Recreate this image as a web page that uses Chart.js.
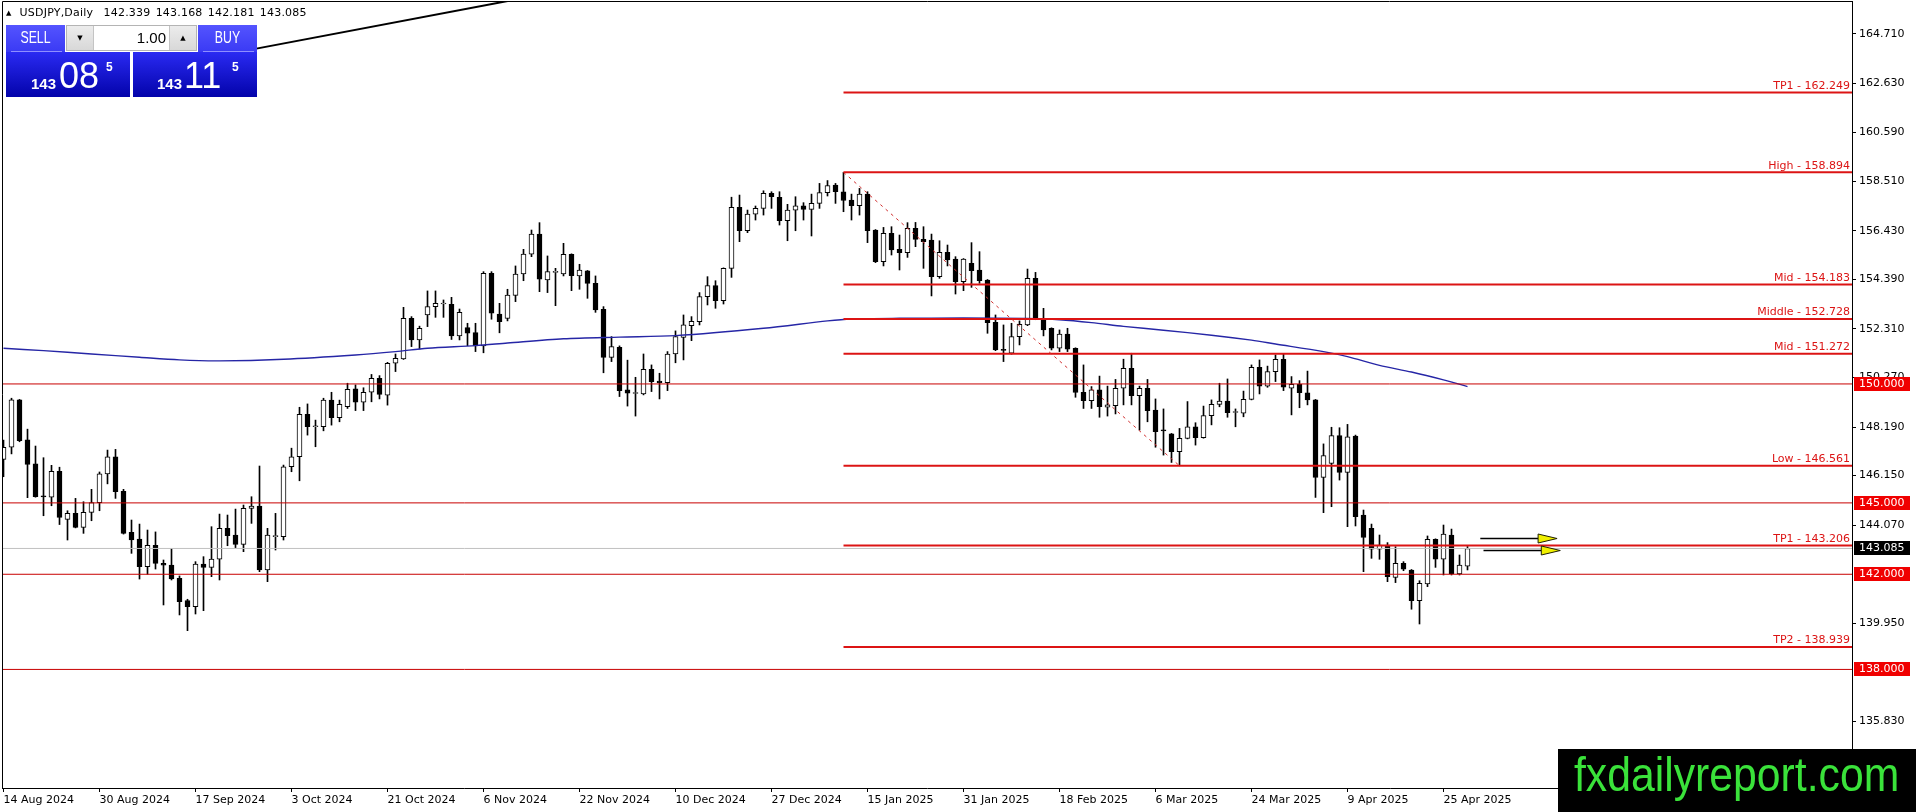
<!DOCTYPE html>
<html><head><meta charset="utf-8">
<script src="https://cdn.jsdelivr.net/npm/chart.js"></script>
<style>
html,body{margin:0;padding:0;background:#fff;}
#wrap{position:relative;width:1916px;height:812px;overflow:hidden;background:#fff;font-family:'DejaVu Sans',sans-serif;}
#c{position:absolute;left:0;top:0;width:1916px;height:812px;}
#hdr{position:absolute;left:6px;top:7px;font:11px 'DejaVu Sans',sans-serif;color:#000;white-space:pre;line-height:12px;letter-spacing:0.2px;word-spacing:1.5px;}
#hdr .tri{font-size:7px;vertical-align:1px;margin-right:8px;}
.pb{position:absolute;color:#fff;overflow:hidden;}
.top{top:25px;height:27px;background:linear-gradient(#5454ff,#3a3af4);text-align:center;}
.top span{position:absolute;left:0;right:0;top:4px;font:16px 'Liberation Sans',sans-serif;line-height:18px;transform:scaleX(0.77);}
.top i{position:absolute;left:5px;right:3px;bottom:0;height:1px;background:#8e8eff;}
#sellTop{left:6px;width:59px;}
#buyTop{left:198px;width:59px;}
#spin{position:absolute;left:66px;top:25px;width:129px;height:24px;border:1px solid #b4b4b4;background:#fff;}
#spin .b{position:absolute;top:0;width:26px;height:24px;background:linear-gradient(#ececec,#d8d8d8);font-size:7px;line-height:24px;text-align:center;color:#000;}
#spin .dn{left:0;border-right:1px solid #c4c4c4;}
#spin .up{right:0;border-left:1px solid #c4c4c4;}
#spin .fld{position:absolute;right:30px;top:3px;font:15px 'Liberation Sans',sans-serif;line-height:18px;color:#000;}
.bot{top:52px;height:45px;width:124px;background:linear-gradient(#2a2af2,#0303aa);font-family:'Liberation Sans',sans-serif;}
#sellBot{left:6px;}
#buyBot{left:133px;}
.bot .s1{position:absolute;top:24px;font:bold 15px 'Liberation Sans',sans-serif;line-height:15px;}
.bot .s2{position:absolute;top:6px;font:36px 'Liberation Sans',sans-serif;line-height:36px;}
.bot .s3{position:absolute;top:9px;font:bold 12px 'Liberation Sans',sans-serif;line-height:12px;}
#wm{position:absolute;left:1558px;top:749px;width:358px;height:63px;background:#000;}
#wm span{position:absolute;left:16px;top:2px;font:48px 'Liberation Sans',sans-serif;line-height:48px;color:#3ae23a;transform:scaleX(0.89);transform-origin:0 0;white-space:nowrap;}
</style></head><body>
<div id="wrap">
<canvas id="c" width="1916" height="812"></canvas>
<div id="hdr"><span class="tri">▲</span>USDJPY,Daily  142.339 143.168 142.181 143.085</div>
<div class="pb top" id="sellTop"><span>SELL</span><i></i></div>
<div id="spin"><div class="b dn">▼</div><div class="fld">1.00</div><div class="b up">▲</div></div>
<div class="pb top" id="buyTop"><span>BUY</span><i></i></div>
<div class="pb bot" id="sellBot"><span class="s1" style="left:25px">143</span><span class="s2" style="left:53px">08</span><span class="s3" style="left:100px">5</span></div>
<div class="pb bot" id="buyBot"><span class="s1" style="left:24px">143</span><span class="s2" style="left:51px">11</span><span class="s3" style="left:99px">5</span></div>
<div id="wm"><span>fxdailyreport.com</span></div>
</div>
<script>
// ---- data ----
const dateLabels = ['14 Aug 2024','30 Aug 2024','17 Sep 2024','3 Oct 2024','21 Oct 2024','6 Nov 2024','22 Nov 2024','10 Dec 2024','27 Dec 2024','15 Jan 2025','31 Jan 2025','18 Feb 2025','6 Mar 2025','24 Mar 2025','9 Apr 2025','25 Apr 2025'];
const dateIdx = [0,12,24,36,48,60,72,84,96,108,120,132,144,156,168,180];

const opens = [146.83,147.34,149.33,147.65,146.64,145.29,145.24,146.33,144.31,144.56,143.97,144.60,145.01,146.22,146.94,145.49,143.76,143.48,142.32,143.22,
142.46,142.39,141.83,140.89,140.64,142.43,142.29,142.63,143.93,143.65,143.26,144.77,144.87,142.18,143.58,143.58,146.52,146.94,148.72,148.20,
148.20,149.32,148.58,149.05,149.79,149.23,149.65,150.24,149.53,150.87,151.05,152.76,151.85,152.90,153.25,153.36,153.35,152.02,152.37,152.16,
151.60,154.65,152.94,152.75,153.72,154.62,155.46,156.30,154.37,154.69,154.62,155.45,154.54,154.75,154.23,153.14,151.12,151.54,149.75,149.60,
149.58,150.61,150.12,150.05,151.26,151.96,152.45,152.62,153.67,154.13,153.50,154.86,157.42,156.44,157.14,157.38,158.01,157.84,156.86,157.31,
157.49,157.34,157.59,158.04,158.36,158.08,157.73,157.49,157.98,156.47,155.14,156.33,155.66,155.52,156.54,156.08,156.05,154.51,155.53,155.25,
154.30,155.07,154.79,154.37,152.59,151.43,151.29,151.99,152.48,154.44,152.72,152.34,151.50,152.10,151.50,149.65,149.30,149.75,149.02,149.09,
149.82,150.66,149.51,149.82,148.90,148.04,147.90,147.15,147.71,148.20,147.74,148.67,149.14,149.28,148.80,148.77,149.35,150.70,149.91,150.52,
151.04,149.82,149.98,149.63,149.33,146.07,146.66,147.83,146.28,147.81,144.49,143.93,143.05,143.23,141.87,142.46,142.18,140.89,141.59,143.47,
142.63,143.65,142.01,142.339];
const highs = [147.64,149.40,149.35,148.10,147.39,146.90,146.58,146.50,144.67,145.19,145.05,145.57,146.30,147.22,147.25,145.57,144.28,144.11,143.86,143.78,
142.60,143.09,141.93,140.95,142.53,142.74,144.00,144.53,144.49,144.74,144.91,145.26,146.55,143.93,144.56,146.59,147.30,149.02,149.16,148.48,
149.40,149.65,149.32,150.03,149.96,149.84,150.40,150.35,150.91,151.26,153.22,152.83,152.43,153.91,153.91,153.53,153.64,153.15,152.55,152.55,
154.72,154.72,153.39,153.98,154.96,155.66,156.47,156.78,155.38,154.86,155.91,155.47,155.03,154.77,154.54,153.25,151.99,151.60,151.00,150.28,
151.26,150.80,150.45,151.36,152.23,152.90,152.83,153.84,154.51,154.34,154.88,157.85,157.94,157.31,157.48,158.12,158.08,158.08,157.55,157.87,
157.62,157.98,158.43,158.55,158.43,158.894,157.98,158.22,158.08,156.49,156.58,156.61,156.26,156.78,156.79,156.61,156.30,156.02,155.84,155.35,
155.27,155.94,155.56,154.39,152.90,152.48,152.55,152.65,154.83,154.69,153.18,152.36,152.27,152.34,151.52,150.80,149.89,150.33,149.91,150.19,
151.04,151.29,149.91,150.19,149.37,148.95,147.92,148.13,149.26,148.37,149.07,149.33,150.03,150.21,148.95,149.70,150.80,151.01,150.75,151.22,
151.26,150.31,150.14,150.54,149.35,147.48,148.18,148.16,148.30,147.85,144.70,144.11,143.65,143.33,143.16,142.53,142.20,141.73,143.61,143.49,
144.07,143.90,142.81,143.168];
const lows = [146.10,147.06,147.57,145.22,145.24,144.46,144.88,144.09,143.44,143.95,143.72,144.25,144.67,145.80,145.19,143.69,142.88,141.80,142.00,142.22,
140.71,141.76,140.29,139.63,140.33,140.47,141.90,141.76,143.20,143.12,142.95,144.14,142.11,141.69,143.02,143.44,146.31,145.93,147.85,147.36,
148.03,148.27,148.41,148.97,148.88,148.88,149.25,149.37,149.11,150.52,151.03,151.57,151.47,152.41,152.80,152.80,151.87,151.85,151.61,151.36,
151.31,152.72,152.15,152.65,153.46,154.34,155.35,153.88,153.84,153.29,154.54,153.92,153.98,153.60,153.01,150.47,150.94,149.47,149.07,148.65,
149.54,149.68,149.37,149.72,150.89,151.01,151.82,152.48,153.32,153.18,153.36,154.48,155.98,156.36,156.89,157.10,157.38,156.68,156.02,156.44,
156.89,156.22,157.38,157.90,157.59,157.24,156.89,157.10,155.94,155.10,154.96,155.42,154.79,155.32,155.77,154.86,153.70,154.44,154.96,153.78,
153.92,154.06,154.23,152.13,151.40,150.94,151.25,151.64,152.45,152.70,152.02,151.43,151.36,151.36,149.44,148.97,148.97,148.60,148.65,148.74,
149.12,149.12,148.06,148.41,147.34,147.01,146.70,146.561,147.69,147.43,147.72,148.28,149.04,148.60,148.20,148.62,149.33,149.58,149.86,150.10,
149.72,148.70,149.00,149.12,145.23,144.59,144.84,145.96,144.00,144.03,142.11,142.67,142.63,141.69,141.65,142.15,140.53,139.91,141.48,142.29,
141.97,141.97,141.97,142.181];
const closes = [147.34,149.33,147.62,146.62,145.26,145.25,146.33,144.39,144.56,143.97,144.60,145.01,146.22,146.94,145.47,143.72,143.44,142.32,143.22,142.46,
142.38,141.80,140.85,140.64,142.43,142.29,142.64,143.93,143.62,143.26,144.77,144.87,142.18,143.65,143.63,146.52,146.94,148.72,148.20,148.22,
149.32,148.58,149.14,149.77,149.23,149.65,150.24,149.56,150.87,151.08,152.76,151.85,152.34,153.25,153.39,153.38,152.02,153.01,152.13,151.60,
154.65,152.97,152.62,153.74,154.62,155.46,156.30,154.40,154.72,154.70,155.45,154.55,154.79,154.23,153.11,151.12,151.57,149.72,149.61,149.62,
150.61,150.10,150.05,151.26,151.99,152.48,152.63,153.67,154.13,153.50,154.86,157.42,156.44,157.14,157.38,158.01,157.87,156.86,157.31,157.49,
157.34,157.59,158.04,158.34,158.08,157.71,157.49,157.98,156.44,155.14,156.33,155.63,155.52,156.54,156.08,155.98,154.51,155.53,155.21,154.30,
155.25,154.76,154.34,152.58,151.43,151.41,151.99,152.51,154.44,152.72,152.27,151.50,152.10,151.46,149.64,149.30,149.75,149.05,149.12,149.82,
150.66,149.51,149.82,148.88,147.99,148.03,147.15,147.71,148.20,147.74,148.67,149.14,149.28,148.79,148.81,149.35,150.70,149.91,150.52,151.04,
149.86,149.98,149.63,149.33,146.07,146.99,147.83,146.28,147.78,144.42,143.55,143.05,143.23,141.90,142.46,142.21,140.89,141.62,143.47,142.63,
143.69,142.01,142.39,143.085];

// moving average (bar index -> value)
const maIdx = [0,5,11,17,22,27,35,44,49,53,59,63,70,77,84,95,103,106,112,120,128,132,136,140,145,151,156,159,165,168,172,176,180,183];
const maVal = [151.50,151.40,151.26,151.12,151.01,150.97,151.04,151.22,151.36,151.50,151.61,151.72,151.90,151.97,152.03,152.34,152.65,152.73,152.76,152.77,152.75,152.70,152.58,152.42,152.26,152.05,151.84,151.68,151.36,151.15,150.78,150.50,150.17,149.89];

const yTickValues = [164.71,162.63,160.59,158.51,156.43,154.39,152.31,150.27,148.19,146.15,144.07,139.95,135.83];
const fibNames = ['TP1','High','Mid','Middle','Mid','Low','TP1','TP2'];
const fibLevels = [162.249,158.894,154.183,152.728,151.272,146.561,143.206,138.939];
const fibStart = 105;
const roundLevels = [150.000,145.000,142.000,138.000];
const lastPrice = 143.085;
const swingIdx = [105,147];
const swingVal = [158.894,146.561];
const trendIdx = [25,70];
const trendVal = [163.675,166.54];
const arrowFrom = [184.6,185.0];
const arrowTo = [194.2,194.6];
const arrowPrice = [143.54,143.02];

// ---- scale ranges (pixel layout) ----
const xMin = -0.1875, xMax = -0.1875 + 1850/8;
const yMax = 164.71 + 33/23.79, yMin = 164.71 - 754/23.79;

const idx = opens.map((_, i) => i);
const red = '#dc1414';
const datasets = [];
datasets.push({type:'bar', order:20, data: idx.map(i => ({x:i, y:[lows[i], highs[i]]})),
  backgroundColor:'#000', borderWidth:0, barThickness:1, grouped:false, minBarLength:1});
datasets.push({type:'bar', order:19, data: idx.map(i => ({x:i, y:[opens[i], closes[i]]})),
  backgroundColor: idx.map(i => closes[i] >= opens[i] ? '#ffffff' : '#000000'),
  borderColor:'#000', borderWidth:1, borderSkipped:false, barThickness:5, grouped:false, minBarLength:1});
const hline = (v, from, color, w, order) => ({type:'line', order, data:[{x:from,y:v},{x:xMax,y:v}],
  borderColor:color, borderWidth:w, pointRadius:0, tension:0});
datasets.push(hline(lastPrice, xMin, '#c0c0c0', 1, 8));
datasets.push({type:'line', order:6, data: maIdx.map((k, j) => ({x:k, y:maVal[j]})),
  borderColor:'#2626a6', borderWidth:1.4, pointRadius:0, tension:0.3});
roundLevels.forEach(v => datasets.push(hline(v, xMin, '#c80000', 1, 5)));
fibLevels.forEach(v => datasets.push(hline(v, fibStart, red, 2, 4)));
datasets.push({type:'line', order:3, data: swingIdx.map((k, j) => ({x:k, y:swingVal[j]})),
  borderColor:'#d03030', borderWidth:1, borderDash:[3,4], pointRadius:0});
datasets.push({type:'line', order:3, data: trendIdx.map((k, j) => ({x:k, y:trendVal[j]})),
  borderColor:'#000', borderWidth:2, pointRadius:0});

const overlay = {
  id:'overlay',
  afterDraw(chart) {
    const {ctx, chartArea:a, scales:{x, y}} = chart;
    ctx.save();
    ctx.strokeStyle = '#000'; ctx.lineWidth = 1;
    ctx.beginPath();
    ctx.moveTo(a.left + 0.5, a.bottom); ctx.lineTo(a.left + 0.5, a.top + 0.5); ctx.lineTo(a.right, a.top + 0.5);
    ctx.stroke();
    ctx.font = "11px 'DejaVu Sans'";
    ctx.fillStyle = red; ctx.textAlign = 'right'; ctx.textBaseline = 'bottom';
    fibLevels.forEach((v, j) => {
      ctx.fillText(fibNames[j] + ' - ' + v.toFixed(3), a.right - 2, y.getPixelForValue(v) - 1);
    });
    ctx.textAlign = 'left'; ctx.textBaseline = 'middle';
    const box = (v, bg) => {
      const py = Math.round(y.getPixelForValue(v));
      ctx.fillStyle = bg; ctx.fillRect(a.right + 2, py - 7, 56, 14);
      ctx.fillStyle = '#fff'; ctx.fillText(v.toFixed(3), a.right + 7, py + 0.5);
    };
    roundLevels.forEach(v => box(v, '#f00000'));
    box(lastPrice, '#000');
    arrowFrom.forEach((f, j) => {
      const x1 = x.getPixelForValue(f), x2 = x.getPixelForValue(arrowTo[j]);
      const py = Math.round(y.getPixelForValue(arrowPrice[j])) + 0.5;
      const base = x2 - 19;
      ctx.strokeStyle = '#000'; ctx.lineWidth = 1.5;
      ctx.beginPath(); ctx.moveTo(x1, py); ctx.lineTo(base, py); ctx.stroke();
      ctx.beginPath(); ctx.moveTo(base, py - 4.5); ctx.lineTo(x2, py); ctx.lineTo(base, py + 4.5); ctx.closePath();
      ctx.fillStyle = '#f0f000'; ctx.fill(); ctx.lineWidth = 1; ctx.strokeStyle = '#202000'; ctx.stroke();
    });
    ctx.restore();
  }
};

Chart.defaults.font.family = "'DejaVu Sans'";
Chart.defaults.font.size = 11;
Chart.defaults.color = '#000';

new Chart(document.getElementById('c'), {
  type:'bar',
  data:{datasets},
  options:{
    responsive:false, animation:false, devicePixelRatio:1,
    layout:{padding:{left:2, top:1, right:0, bottom:0}},
    plugins:{legend:{display:false}, tooltip:{enabled:false}},
    scales:{
      x:{type:'linear', min:xMin, max:xMax, offset:false,
        afterBuildTicks:s => { s.ticks = dateIdx.map(v => ({value:v})); },
        afterFit:s => { s.height = 24; s.paddingLeft = 0; s.paddingRight = 0; },
        ticks:{callback:v => dateLabels[dateIdx.indexOf(v)], align:'start', maxRotation:0, minRotation:0, autoSkip:false, padding:2, color:'#000'},
        grid:{display:true, drawOnChartArea:false, drawTicks:true, tickLength:4, color:'#000', offset:false},
        border:{display:true, color:'#000', width:1}},
      y:{type:'linear', position:'right', min:yMin, max:yMax,
        afterBuildTicks:s => { s.ticks = yTickValues.map(v => ({value:v})); },
        afterFit:s => { s.width = 64; s.paddingTop = 0; s.paddingBottom = 0; },
        ticks:{callback:v => Number(v).toFixed(3), autoSkip:false, padding:3, color:'#000'},
        grid:{display:true, drawOnChartArea:false, drawTicks:true, tickLength:4, color:'#000'},
        border:{display:true, color:'#000', width:1}}
    }
  },
  plugins:[overlay]
});
</script>
</body></html>
